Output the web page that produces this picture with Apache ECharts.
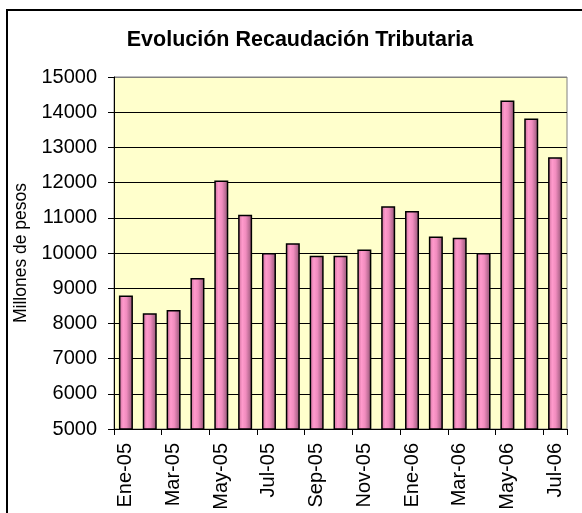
<!DOCTYPE html>
<html>
<head>
<meta charset="utf-8">
<script src="https://cdn.jsdelivr.net/npm/echarts@6/dist/echarts.min.js"></script>
<style>
  html, body { margin: 0; padding: 0; background: #fff; }
  #main { width: 582px; height: 513px; }
</style>
</head>
<body>
<div id="main"></div>
<script>
// meses (19)
var meses = ['Ene-05', 'Feb-05', 'Mar-05', 'Abr-05', 'May-05', 'Jun-05', 'Jul-05', 'Ago-05', 'Sep-05', 'Oct-05',
    'Nov-05', 'Dic-05', 'Ene-06', 'Feb-06', 'Mar-06', 'Abr-06', 'May-06', 'Jun-06', 'Jul-06'];
// recaudacion, millones de pesos
var recaudacion = [8790, 8290, 8380, 9290, 12060, 11090, 10000, 10280, 9920, 9920,
    10100, 11330, 11190, 10470, 10430, 10000, 14330, 13820, 12720];

var fuente = "'Liberation Sans', Arial, sans-serif";

var myChart = echarts.init(document.getElementById('main'), null, {renderer: 'canvas'});

var option = {
    backgroundColor: '#fff',
    animation: false,
    title: {
        text: 'Evolución Recaudación Tributaria',
        left: 295,
        top: 24,
        textAlign: 'center',
        textStyle: { fontFamily: fuente, fontSize: 21.5, fontWeight: 'bold', color: '#000' }
    },
    graphic: [{
        type: 'rect',
        shape: { x: 7, y: 10, width: 620, height: 560 },
        style: { fill: null, stroke: '#000', lineWidth: 2 },
        silent: true
    }],
    grid: {
        left: 114, right: 15, top: 77, bottom: 84,
        show: true,
        backgroundColor: '#FFFFCC',
        borderColor: '#808080',
        borderWidth: 1
    },
    xAxis: {
        type: 'category',
        data: meses,
        boundaryGap: true,
        axisLine: { lineStyle: { color: '#000', width: 1 } },
        axisTick: { show: true, interval: 1, length: 6, lineStyle: { color: '#000' } },
        axisLabel: {
            interval: 1,
            rotate: 90,
            margin: 14,
            fontFamily: fuente,
            fontSize: 20,
            color: '#000'
        },
        splitLine: { show: false }
    },
    yAxis: {
        type: 'value',
        min: 5000,
        max: 15000,
        interval: 1000,
        name: 'Millones de pesos',
        nameLocation: 'middle',
        nameGap: 70,
        nameTextStyle: { fontFamily: fuente, fontSize: 17.5, color: '#000' },
        axisLine: { show: true, lineStyle: { color: '#000', width: 1 } },
        axisTick: { show: true, length: 6, lineStyle: { color: '#000' } },
        axisLabel: {
            margin: 17,
            fontFamily: fuente,
            fontSize: 20,
            color: '#000',
            formatter: function (v) { return String(v); }
        },
        splitLine: {
            show: true,
            lineStyle: { color: ['#000', '#000', '#000', '#000', '#000', '#000', '#000', '#000', '#000', '#000', '#808080'], width: 1 }
        }
    },
    series: [{
        name: 'Recaudación',
        type: 'bar',
        data: recaudacion,
        barWidth: 14,
        itemStyle: {
            color: new echarts.graphic.LinearGradient(0, 0, 1, 0, [
                { offset: 0, color: '#C86C98' },
                { offset: 0.3, color: '#FF9ACC' },
                { offset: 0.55, color: '#F08CBE' },
                { offset: 1, color: '#8E5272' }
            ]),
            borderColor: '#000',
            borderWidth: 1.5
        }
    }]
};

myChart.setOption(option);
</script>
</body>
</html>
